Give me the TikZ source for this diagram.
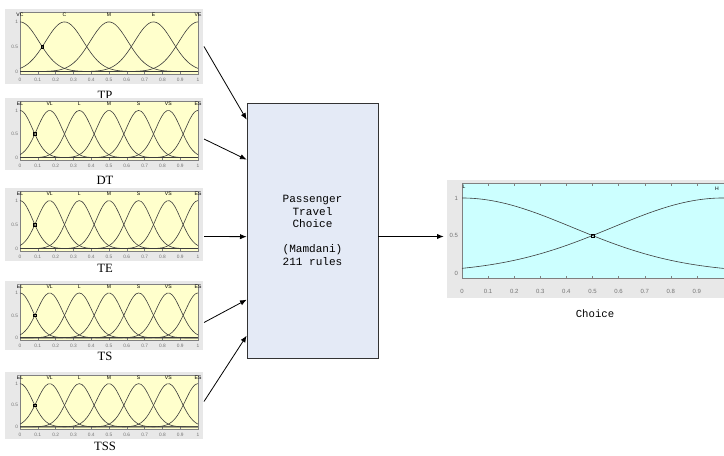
\documentclass[tikz,border=0pt]{standalone}
\usepackage{fontspec}
\setmainfont{Liberation Serif}
\setsansfont{Liberation Sans}
\setmonofont{Liberation Mono}
\usetikzlibrary{arrows.meta,positioning,calc}
\definecolor{panelgray}{RGB}{232,232,232}
\definecolor{mfyellow}{RGB}{255,255,204}
\definecolor{mfcyan}{RGB}{204,255,255}
\definecolor{fisfill}{RGB}{228,234,246}
\definecolor{mfline}{RGB}{60,60,60}

\begin{document}
\begin{tikzpicture}[x=0.75pt, y=-0.75pt,
  panel/.style={fill=panelgray, inner sep=0pt, outer sep=0pt, minimum width=148.5pt},
  axbox/.style={fill=mfyellow, draw=gray, line width=0.3pt},
  outbox/.style={fill=mfcyan, draw=gray, line width=0.3pt},
  mf/.style={draw=mfline, line width=0.45pt},
  axtick/.style={draw=gray, line width=0.3pt},
  marker/.style={draw=black, line width=0.4pt, minimum size=2pt, inner sep=0pt},
  ticklabel/.style={font=\sffamily\fontsize{3.6}{4}\selectfont, text=gray!90!black, inner sep=0.5pt},
  mflabel/.style={font=\sffamily\fontsize{3.8}{4}\selectfont, inner sep=0pt},
  caption/.style={font=\fontsize{9.5}{11}\selectfont, inner sep=0pt},
  ttcaption/.style={font=\ttfamily\fontsize{8}{9}\selectfont, inner sep=0pt},
  fis/.style={draw=black!80, fill=fisfill, line width=0.5pt, minimum width=98.25pt, minimum height=191.25pt, align=center, font=\ttfamily\fontsize{8.3}{9.4}\selectfont},
  edge/.style={-{Latex[length=5pt,width=4pt]}, line width=0.6pt}
]
\useasboundingbox (0,0) rectangle (724,456);

% input membership functions
\foreach \nm/\ytop/\ybot/\n/\labs/\capt/\capy in {
    tp/12/74/4/{VC,C,M,E,VE}/TP/95,
    dt/101/160/6/{EL,VL,L,M,S,VS,ES}/DT/180,
    te/191/251/6/{EL,VL,L,M,S,VS,ES}/TE/268,
    ts/284/340/6/{EL,VL,L,M,S,VS,ES}/TS/356,
    tss/375/429/6/{EL,VL,L,M,S,VS,ES}/TSS/446}{
  \node[panel, anchor=north west, minimum height={(\ybot-\ytop+13)*0.75pt}] (\nm) at (5,{\ytop-3}) {};
  \draw[axbox] (20,\ytop) rectangle (198,\ybot);
  \pgfmathsetmacro\sg{0.5/(\n*1.17741)}
  \pgfmathsetmacro\hh{(\ybot-\ytop)/1.25}
  \foreach \t [count=\i from 0] in {0,0.1,0.2,0.3,0.4,0.5,0.6,0.7,0.8,0.9,1}{
    \draw[axtick] ({20+17.8*\i},\ybot) -- ++(0,-2);
    \node[ticklabel] (\nm-x\i) at ({20+17.8*\i},{\ybot+6}) {\t};
  }
  \foreach \v/\vn in {0/0,0.5/5,1/1}
    \node[ticklabel, anchor=east] (\nm-y\vn) at (19,{\ybot-\hh*(0.05+\v)}) {\v};
  \foreach \k in {0,...,\n}
    \draw[mf] plot[domain=0:1, samples=70, smooth]
      ({20+178*\x}, {\ybot-\hh*(0.05+exp(-(\x-\k/\n)*(\x-\k/\n)/(2*\sg*\sg)))});
  \foreach \l [count=\k from 0] in \labs
    \node[mflabel] (\nm-mf\k) at ({20+178*\k/\n},{\ytop+3}) {\l};
  \node[marker] (\nm-sel) at ({20+89/\n},{\ybot-\hh*0.55}) {};
  \node[caption] (\nm-cap) at (105,\capy) {\capt};
}

% rule block
\node[fis] (fis) at (312.5,230.5) {Passenger\\Travel\\Choice\\[9.4pt](Mamdani)\\211 rules};

% output membership functions
\node[panel, anchor=north west, minimum width=207.75pt, minimum height=88.5pt] (outpanel) at (447,180) {};
\draw[outbox] (462,183) rectangle (726,278);
\foreach \t [count=\i from 0] in {0,0.1,0.2,0.3,0.4,0.5,0.6,0.7,0.8,0.9}{
  \draw[axtick] ({462+26.1*\i},278) -- ++(0,-2.5);
  \draw[axtick] ({462+26.1*\i},183) -- ++(0,2.5);
  \node[ticklabel, font=\sffamily\fontsize{4.5}{5}\selectfont] (out-x\i) at ({462+26.1*\i},291) {\t};
}
\foreach \v/\vn in {0/0,0.5/5,1/1}
  \node[ticklabel, font=\sffamily\fontsize{4.5}{5}\selectfont, anchor=east] (out-y\vn) at (459,{273-75*\v}) {\v};
\draw[mf] plot[domain=0:1.03, samples=80, smooth] ({462+261*\x}, {273-75*exp(-\x*\x/0.36)});
\draw[mf] plot[domain=0:1.03, samples=80, smooth] ({462+261*\x}, {273-75*exp(-(\x-1)*(\x-1)/0.36)});
\node[marker] (out-sel) at ({462+261*0.5},{273-75*0.5}) {};
\node[mflabel] (out-mf0) at (464,187) {L};
\node[mflabel] (out-mf1) at (717,189) {H};
\node[ttcaption] (out-cap) at (595,314) {Choice};

% connectors
\draw[edge] ($(tp.east)+(1,0)$) -- ($(fis.north west)+(0,17)$);
\draw[edge] ($(dt.east)+(1,5)$) -- ($(fis.north west)+(0,57)$);
\draw[edge] ($(te.east)+(1,12)$) -- ($(fis.north west)+(0,134)$);
\draw[edge] ($(ts.east)+(1,7)$) -- ($(fis.north west)+(0,197)$);
\draw[edge] ($(tss.east)+(1,-4)$) -- ($(fis.north west)+(0,233)$);
\coordinate (fis-out) at ($(fis.east)+(0,6)$);
\draw[edge, shorten >=2.5pt] (fis-out) -- (fis-out -| outpanel.west);
\end{tikzpicture}
\end{document}
